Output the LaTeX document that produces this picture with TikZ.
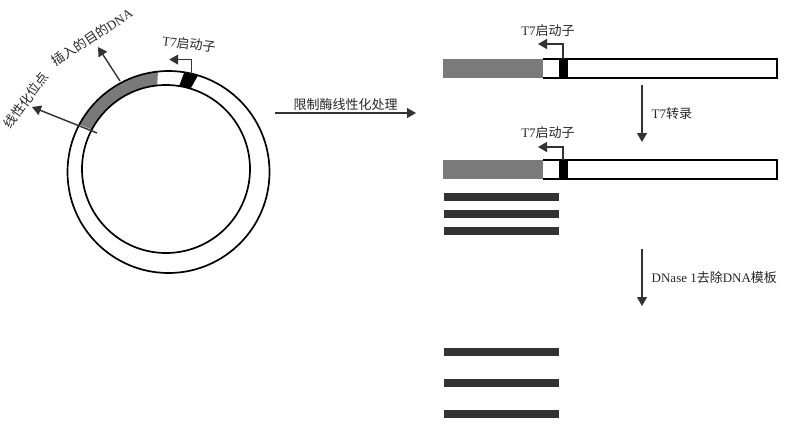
\documentclass[tikz,border=0pt]{standalone}
\usepackage{fontspec}
\setmainfont{Liberation Serif}
\newfontfamily\cjk{Noto Sans CJK SC}
\usetikzlibrary{arrows.meta,positioning}
\definecolor{insertgray}{HTML}{7A7A7A}
\definecolor{rnadark}{HTML}{333333}

\begin{document}
\begin{tikzpicture}[x=1pt,y=1pt,>={Triangle[width=10pt,length=9pt]},
  lbl/.style={font=\fontsize{13}{15}\selectfont,text=black!85,inner sep=1pt},
  arrow/.style={->,line width=1.4pt,draw=black!80},
  ring/.style={line width=1.7pt},
  rna/.style={fill=rnadark,minimum width=115pt,minimum height=8pt,inner sep=0pt}]
  \useasboundingbox (0,0) rectangle (787,-423);
  % plasmid
  \coordinate (outc) at (168.5,-172);
  \coordinate (inc) at (166,-169);
  \fill[insertgray] ([shift={(outc)}]96:101pt) arc (96:152:101pt)
    -- ([shift={(inc)}]152:84pt) arc (152:96:84pt) -- cycle;
  \fill[black] ([shift={(outc)}]73:101pt) arc (73:81:101pt)
    -- ([shift={(inc)}]81:84pt) arc (81:73:84pt) -- cycle;
  \draw[ring] (outc) circle (101pt);
  \draw[ring] (inc) circle (84pt);
  \coordinate (prom0) at ([shift={(outc)}]77:101pt);
  \draw[arrow] (prom0) |- ++(-22,14);
  \node[lbl,rotate=-7] (prom0lbl) at (189,-44) {T7{\cjk 启动子}};
  \coordinate (insA) at (120,-81);
  \coordinate (insB) at (98,-47);
  \draw[arrow] (insA) -- (insB);
  \node[lbl,rotate=33] (inslbl) at (92,-37) {{\cjk 插入的目的}DNA};
  \coordinate (linA) at (97,-133);
  \coordinate (linB) at (32,-107);
  \draw[arrow] (linA) -- (linB);
  \node[lbl,rotate=54] (linlbl) at (26,-100) {\cjk 线性化位点};
  % linearise
  \coordinate (cutA) at (275,-113);
  \coordinate (cutB) at (416,-113);
  \draw[arrow] (cutA) -- node[lbl,above=1pt] (cutlbl) {\cjk 限制酶线性化处理} (cutB);
  % linear template
  \fill[insertgray] (443,-59) rectangle (543,-78);
  \draw[ring] (543,-59) -- (777,-59) -- (777,-78) -- (543,-78);
  \fill (559,-59) rectangle (568,-78);
  \coordinate (prom1) at (563,-59);
  \draw[arrow] (prom1) |- ++(-25,15);
  \node[lbl] (prom1lbl) at (548,-31) {T7{\cjk 启动子}};
  % transcription
  \coordinate (txA) at (642,-85);
  \coordinate (txB) at (642,-142);
  \draw[arrow] (txA) -- node[lbl,right=8pt] (txlbl) {T7{\cjk 转录}} (txB);
  \fill[insertgray] (443,-160) rectangle (543,-179);
  \draw[ring] (543,-160) -- (777,-160) -- (777,-179) -- (543,-179);
  \fill (559,-160) rectangle (568,-179);
  \coordinate (prom2) at (563,-160);
  \draw[arrow] (prom2) |- ++(-25,13);
  \node[lbl] (prom2lbl) at (548,-133) {T7{\cjk 启动子}};
  \node[rna] (rna1) at (501.5,-197) {};
  \node[rna] (rna2) at (501.5,-213.5) {};
  \node[rna] (rna3) at (501.5,-230.5) {};
  % DNase
  \coordinate (dnA) at (642,-249);
  \coordinate (dnB) at (642,-306);
  \draw[arrow] (dnA) -- node[lbl,right=8pt] (dnlbl) {DNase 1{\cjk 去除}DNA{\cjk 模板}} (dnB);
  \node[rna] (rna4) at (501.5,-352) {};
  \node[rna] (rna5) at (501.5,-383) {};
  \node[rna] (rna6) at (501.5,-414) {};
\end{tikzpicture}
\end{document}
